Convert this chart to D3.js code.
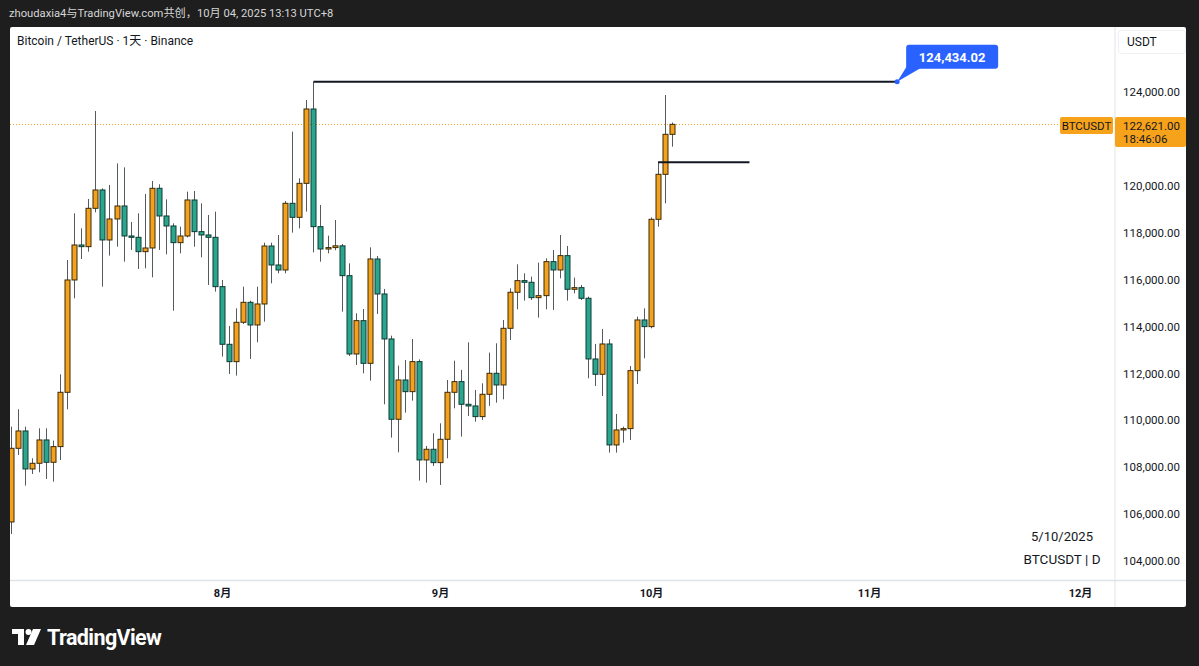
<!DOCTYPE html>
<html>
<head>
<meta charset="utf-8">
<script src="https://cdn.jsdelivr.net/npm/d3@7"></script>
<style>
  html, body { margin: 0; padding: 0; background: #1e1e1e; }
  svg { display: block; }
  text { font-family: Roboto, "Noto Sans CJK SC", sans-serif; }
</style>
</head>
<body>
<svg id="chart" width="1199" height="666"></svg>
<script>
// ---------------- DATA ----------------
const dates = [
  "2025-07-02","2025-07-03","2025-07-04","2025-07-05","2025-07-06","2025-07-07","2025-07-08","2025-07-09","2025-07-10","2025-07-11",
  "2025-07-12","2025-07-13","2025-07-14","2025-07-15","2025-07-16","2025-07-17","2025-07-18","2025-07-19","2025-07-20","2025-07-21",
  "2025-07-22","2025-07-23","2025-07-24","2025-07-25","2025-07-26","2025-07-27","2025-07-28","2025-07-29","2025-07-30","2025-07-31",
  "2025-08-01","2025-08-02","2025-08-03","2025-08-04","2025-08-05","2025-08-06","2025-08-07","2025-08-08","2025-08-09","2025-08-10",
  "2025-08-11","2025-08-12","2025-08-13","2025-08-14","2025-08-15","2025-08-16","2025-08-17","2025-08-18","2025-08-19","2025-08-20",
  "2025-08-21","2025-08-22","2025-08-23","2025-08-24","2025-08-25","2025-08-26","2025-08-27","2025-08-28","2025-08-29","2025-08-30",
  "2025-08-31","2025-09-01","2025-09-02","2025-09-03","2025-09-04","2025-09-05","2025-09-06","2025-09-07","2025-09-08","2025-09-09",
  "2025-09-10","2025-09-11","2025-09-12","2025-09-13","2025-09-14","2025-09-15","2025-09-16","2025-09-17","2025-09-18","2025-09-19",
  "2025-09-20","2025-09-21","2025-09-22","2025-09-23","2025-09-24","2025-09-25","2025-09-26","2025-09-27","2025-09-28","2025-09-29",
  "2025-09-30","2025-10-01","2025-10-02","2025-10-03","2025-10-04"
];
const opens = [
  105665,108806,109545,107925,108167,109162,108210,108878,111194,115984,
  117476,117405,119040,119822,117690,118585,119139,117860,117803,117192,
  117348,119893,118713,118287,117576,117860,119395,118045,117903,117803,
  115700,113241,112501,114179,115031,114065,114960,117433,116623,116410,
  119253,118656,120105,123275,118258,117305,117365,117440,116168,112828,
  114250,112430,116879,115387,113468,110043,111720,111222,112502,108309,
  108764,108195,109190,111194,111649,110683,110612,110157,111109,112004,
  111507,113923,115459,115956,115885,115231,115316,116766,116411,117022,
  115586,115657,115203,112616,111962,113255,108949,109588,109645,112118,
  114279,113995,118571,120490,122195
];
const highs = [
  109730,110469,109730,108380,109659,109659,109134,111962,116837,118827,
  118187,119438,123190,119893,120035,120954,120788,118457,118827,119651,
  120206,120064,119423,118400,118258,119750,119779,119253,118756,118898,
  115984,114023,114776,115699,115102,115699,117576,117576,117902,119350,
  122308,120319,123659,124434.02,119182,117874,118542,117519,116694,114563,
  114747,117376,117007,115600,113610,112331,112572,113468,112601,108906,
  109445,109872,111720,112544,112147,113326,111294,111578,112886,113284,
  114279,115629,116652,116268,116127,116723,116908,117263,117903,117434,
  116084,115771,115274,113255,113895,113454,110270,109730,112317,114421,
  114776,118650,120987,123872,122700
];
const lows = [
  105150,108522,107215,107712,107783,107499,107385,108309,110469,115202,
  116879,117192,118869,115700,117022,117405,116766,117263,116453,116481,
  116098,117263,117078,114676,117121,117803,117405,116950,115771,115487,
  112715,111976,111905,114108,112615,113326,114207,115841,116268,116268,
  118002,118187,118898,117163,116765,117120,117250,114633,112743,112359,
  112004,111691,114534,110682,109261,108636,110327,110838,107428,107342,
  108053,107243,108380,110511,109304,110185,109944,110015,110612,110754,
  110896,113426,114733,115103,115131,114378,114733,114705,116055,115103,
  115415,115131,111791,111464,111038,108622,108622,109048,109162,111550,
  112644,113923,118258,119253,121669
];
const closes = [
  108806,109545,107925,108167,109162,108210,108878,111194,115984,117476,
  117405,119040,119822,117690,118585,119139,117860,117803,117192,117348,
  119893,118713,118287,117576,117860,119395,118045,117903,117803,115700,
  113241,112501,114179,115031,114065,114960,117433,116623,116410,119253,
  118656,120105,123275,118258,117305,117365,117440,116168,112828,114250,
  112430,116879,115387,113468,110043,111720,111222,112502,108309,108764,
  108195,109190,111194,111649,110683,110612,110157,111109,112004,111507,
  113923,115459,115956,115885,115231,115316,116766,116411,117022,115586,
  115657,115203,112616,111962,113255,108949,109588,109645,112118,114279,
  113995,118571,120490,122195,122621
];
// 122,000.00 is hidden behind the last-price label in the reference
const priceTicks = [104000,106000,108000,110000,112000,114000,116000,118000,120000,124000];
const monthTicks = ["2025-08-01","2025-09-01","2025-10-01","2025-11-01","2025-12-01"];
const monthLabels = ["8月","9月","10月","11月","12月"];
const athPrice = 124434.02;
const athStart = "2025-08-14", athEnd = "2025-11-05";
const levelPrice = 121000;
const levelStart = "2025-10-02", levelEnd = "2025-10-15";
const lastPrice = 122621.00;
const countdown = "18:46:06";

// ---------------- SETUP ----------------
const parse = d3.utcParse("%Y-%m-%d");
const svg = d3.select("#chart");
const W = 1199, H = 666;
const panel = {x0: 10, x1: 1186, y0: 27, y1: 607};
const plot = {x0: 10, x1: 1115, y0: 27, y1: 580};

const x = d3.scaleUtc().domain([parse("2025-07-01"), parse("2025-12-01")]).range([4, 1080]);
const y = d3.scaleLinear().domain([104000, 124000]).range([561, 92]);

const UP = "#f4a21d", UPB = "#3b2a05", DN = "#2aa68e", DNB = "#0d3a32", WICK = "#555a5e";
const TXT = "#131722", GRID = "#e0e3eb";

// background
svg.append("rect").attr("width", W).attr("height", H).attr("fill", "#1e1e1e");
svg.append("text").attr("x", 9).attr("y", 17).attr("fill", "#d6d6d6").attr("font-size", 11.2)
  .text("zhoudaxia4与TradingView.com共创，10月 04, 2025 13:13 UTC+8");
svg.append("rect").attr("x", panel.x0).attr("y", panel.y0).attr("width", panel.x1 - panel.x0)
  .attr("height", panel.y1 - panel.y0).attr("fill", "#ffffff").attr("rx", 2);

// separators
svg.append("line").attr("x1", plot.x1).attr("x2", plot.x1).attr("y1", panel.y0).attr("y2", panel.y1)
  .attr("stroke", GRID).attr("stroke-width", 1);
svg.append("line").attr("x1", panel.x0).attr("x2", panel.x1).attr("y1", plot.y1 + 0.5).attr("y2", plot.y1 + 0.5)
  .attr("stroke", GRID).attr("stroke-width", 1.5);

// clip
svg.append("clipPath").attr("id", "clip").append("rect")
  .attr("x", plot.x0).attr("y", plot.y0).attr("width", plot.x1 - plot.x0).attr("height", plot.y1 - plot.y0);
const g = svg.append("g").attr("clip-path", "url(#clip)");

// title
svg.append("text").attr("x", 17).attr("y", 45).attr("fill", TXT).attr("font-size", 12)
  .text("Bitcoin / TetherUS · 1天 · Binance");

// last price dotted line
g.append("line").attr("x1", plot.x0).attr("x2", 1060).attr("y1", Math.round(y(lastPrice)) + 0.5).attr("y2", Math.round(y(lastPrice)) + 0.5)
  .attr("stroke", "#f4a21d").attr("stroke-width", 1).attr("stroke-dasharray", "1,2");

// candles
const data = dates.map((d, i) => ({d: parse(d), o: opens[i], h: highs[i], l: lows[i], c: closes[i]}));
const bw = 5;
const cg = g.append("g");
cg.selectAll("line.wick").data(data).join("line").attr("class", "wick")
  .attr("x1", d => Math.round(x(d.d)) + 0.5).attr("x2", d => Math.round(x(d.d)) + 0.5)
  .attr("y1", d => y(d.h)).attr("y2", d => y(d.l))
  .attr("stroke", WICK).attr("stroke-width", 1);
cg.selectAll("rect.body").data(data).join("rect").attr("class", "body")
  .attr("x", d => Math.round(x(d.d)) - 2)
  .attr("width", bw)
  .attr("y", d => y(Math.max(d.o, d.c)))
  .attr("height", d => Math.max(1, Math.abs(y(d.o) - y(d.c))))
  .attr("fill", d => d.c >= d.o ? UP : DN)
  .attr("stroke", d => d.c >= d.o ? UPB : DNB)
  .attr("stroke-width", 1);

// ATH line
g.append("line").attr("x1", x(parse(athStart))).attr("x2", x(parse(athEnd)))
  .attr("y1", y(athPrice)).attr("y2", y(athPrice)).attr("stroke", "#131722").attr("stroke-width", 2);
// level line
g.append("line").attr("x1", x(parse(levelStart))).attr("x2", x(parse(levelEnd)))
  .attr("y1", y(levelPrice)).attr("y2", y(levelPrice)).attr("stroke", "#131722").attr("stroke-width", 2);

// callout
const ax = x(parse(athEnd)), ay = y(athPrice);
svg.append("path").attr("d", `M${ax},${ay} L${ax + 10},${ay - 16} L${ax + 24},${ay - 14} Z`).attr("fill", "#2962ff");
svg.append("rect").attr("x", ax + 9).attr("y", ay - 37).attr("width", 92).attr("height", 24).attr("rx", 3).attr("fill", "#2962ff");
svg.append("circle").attr("cx", ax).attr("cy", ay).attr("r", 2.5).attr("fill", "#2962ff");
svg.append("text").attr("x", ax + 55).attr("y", ay - 20).attr("text-anchor", "middle").attr("fill", "#ffffff")
  .attr("font-size", 13).attr("font-weight", 700).text(d3.format(",.2f")(athPrice));

// y axis
const yAxis = d3.axisRight(y).tickValues(priceTicks).tickFormat(d3.format(",.2f")).tickSize(0).tickPadding(8);
const ya = svg.append("g").attr("transform", `translate(${plot.x1},0)`).call(yAxis);
ya.select(".domain").remove();
ya.selectAll("text").attr("fill", TXT).attr("font-size", 11.5).attr("font-family", "Roboto, sans-serif");

// x axis
const xAxis = d3.axisBottom(x).tickValues(monthTicks.map(parse)).tickFormat((d, i) => monthLabels[i]).tickSize(0).tickPadding(9);
const xa = svg.append("g").attr("transform", `translate(0,${plot.y1})`).call(xAxis);
xa.select(".domain").remove();
xa.selectAll("text").attr("fill", TXT).attr("font-size", 11).attr("font-weight", 700)
  .attr("font-family", "'Noto Sans CJK SC', sans-serif");

// USDT box
svg.append("rect").attr("x", 1118.5).attr("y", 30.5).attr("width", 67).attr("height", 23).attr("rx", 3)
  .attr("fill", "#fff").attr("stroke", "#eef0f3");
svg.append("text").attr("x", 1127).attr("y", 46).attr("fill", TXT).attr("font-size", 12).text("USDT");

// BTCUSDT tag + price label
svg.append("rect").attr("x", 1060).attr("y", 117).attr("width", 53).attr("height", 17).attr("rx", 2).attr("fill", "#f7a21b");
svg.append("text").attr("x", 1086.5).attr("y", 130).attr("text-anchor", "middle").attr("fill", TXT).attr("font-size", 11.5).text("BTCUSDT");
svg.append("rect").attr("x", 1115).attr("y", 117).attr("width", 71).attr("height", 30).attr("rx", 2).attr("fill", "#f7a21b");
svg.append("text").attr("x", 1123).attr("y", 130).attr("fill", TXT).attr("font-size", 11.5).text(d3.format(",.2f")(lastPrice));
svg.append("text").attr("x", 1123).attr("y", 143).attr("fill", TXT).attr("font-size", 11.5).text(countdown);

// bottom-right info
svg.append("text").attr("x", 1062).attr("y", 541).attr("text-anchor", "middle").attr("fill", TXT).attr("font-size", 13).text("5/10/2025");
svg.append("text").attr("x", 1062).attr("y", 564).attr("text-anchor", "middle").attr("fill", TXT).attr("font-size", 13.5).text("BTCUSDT | D");

// TradingView logo
const logo = svg.append("g").attr("fill", "#ffffff");
logo.append("path").attr("d", "M12,629 H24 V645 H18 V634 H12 Z");
logo.append("circle").attr("cx", 28.5).attr("cy", 632).attr("r", 3);
logo.append("path").attr("d", "M33,629 H41 L34,645 H26 Z");
svg.append("text").attr("x", 47).attr("y", 645).attr("fill", "#ffffff").attr("font-size", 21.5).attr("font-weight", 700)
  .attr("font-family", "Inter, Roboto, sans-serif").attr("letter-spacing", -0.6).text("TradingView");
</script>
</body>
</html>
